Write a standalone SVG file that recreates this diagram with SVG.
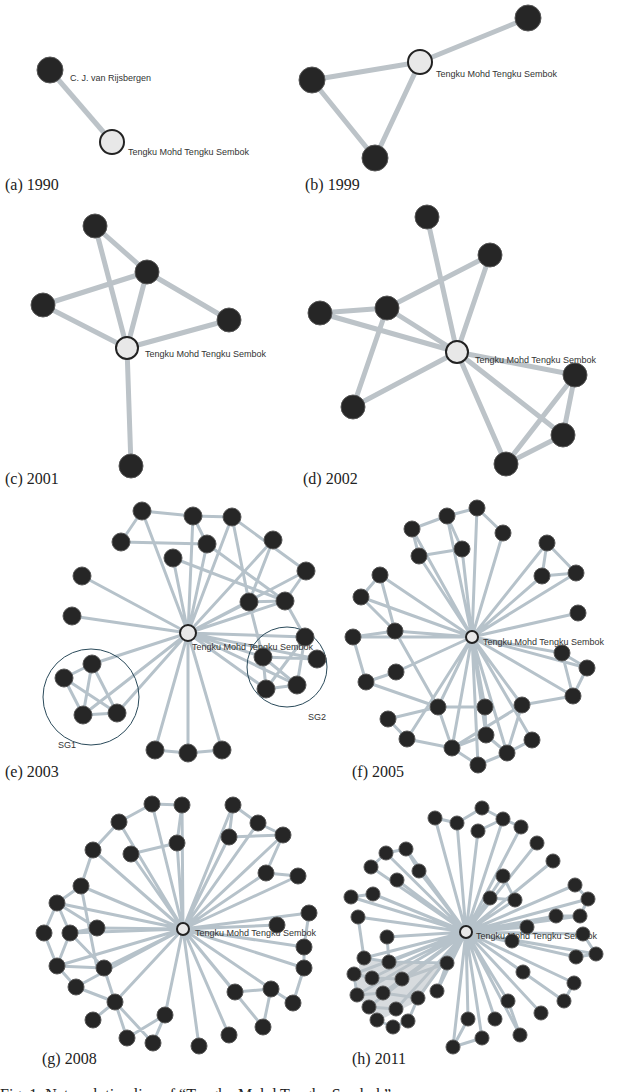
<svg xmlns="http://www.w3.org/2000/svg" width="640" height="1092" viewBox="0 0 640 1092">
<style>
.e1{stroke:#bcc3c8;stroke-width:5;fill:none}
.e2{stroke:#b6c2ca;stroke-width:3;fill:none}
.n1{fill:#262626;stroke:#555;stroke-width:1}
.h1{fill:#e8e8e8;stroke:#222;stroke-width:2}
.cap{font-family:"Liberation Serif",serif;font-size:16px;fill:#222}
.lb{font-family:"Liberation Sans",sans-serif;font-size:9px;fill:#333}
.sg{fill:none;stroke:#2a4a5a;stroke-width:1}
#nodes-f circle,#nodes-g circle{r:8px}
#nodes-h circle{r:7px}
</style>
<rect width="640" height="1092" fill="#fff"/>
<g id="connectors">
<path class="e1" d="M50,70L112,142"/>
<path class="e1" d="M420,62L528,18M420,62L312,80M420,62L375,158M312,80L375,158"/>
<path class="e1" d="M127,348L95,226M127,348L147,272M127,348L43,305M127,348L229,320M127,348L131,466M95,226L147,272M43,305L147,272M147,272L229,320"/>
<path class="e1" d="M457,352L427,217M457,352L490,255M457,352L320,313M457,352L387,308M457,352L353,407M457,352L575,375M457,352L563,435M457,352L506,464M387,308L320,313M387,308L490,255M387,308L353,407M575,375L563,435M575,375L506,464M563,435L506,464"/>
<g class="e2">
<path d="M188,633L142,511M188,633L193,516M188,633L232,517M188,633L207,544M188,633L173,558M188,633L273,540M188,633L306,571M188,633L82,576M188,633L249,602M188,633L285,601M188,633L72,616M188,633L305,637M188,633L263,657M188,633L317,659M188,633L266,689M188,633L297,685M188,633L92,664M188,633L83,715M188,633L117,713M188,633L155,750M188,633L188,753M188,633L222,750"/>
<path d="M142,511L121,542M142,511L193,516M193,516L232,517M121,542L207,544M193,516L207,544M232,517L249,602M173,558L285,601M207,544L285,601M273,540L249,602M306,571L285,601M249,602L285,601M249,602L263,657M285,601L305,637M263,657L317,659M263,657L266,689M266,689L297,685M305,637L297,685M263,657L297,685M305,637L266,689M92,664L64,678M64,678L83,715M83,715L117,713M92,664L83,715M64,678L117,713M92,664L117,713M155,750L188,753M188,753L222,750M232,517L306,571"/>
</g>
<g class="e2">
<path d="M472,637L477,508M472,637L447,516M472,637L412,529M472,637L503,533M472,637L462,549M472,637L419,556M472,637L547,543M472,637L542,576M472,637L576,573M472,637L380,575M472,637L361,597M472,637L578,613M472,637L395,631M472,637L353,637M472,637L562,653M472,637L587,668M472,637L396,672M472,637L573,696M472,637L438,707M472,637L485,707M472,637L522,705M472,637L486,735M472,637L407,739M472,637L452,748M472,637L532,740M472,637L507,753M472,637L478,765"/>
<path d="M447,516L477,508M477,508L503,533M412,529L447,516M412,529L419,556M419,556L462,549M447,516L462,549M547,543L542,576M542,576L576,573M547,543L576,573M380,575L361,597M380,575L395,631M361,597L395,631M353,637L366,682M366,682L396,672M353,637L395,631M395,631L438,707M562,653L587,668M562,653L573,696M587,668L573,696M522,705L573,696M438,707L485,707M438,707L388,719M388,719L407,739M407,739L452,748M438,707L452,748M485,707L486,735M486,735L452,748M486,735L507,753M522,705L507,753M532,740L507,753M452,748L478,765M478,765L507,753M522,705L452,748M366,682L438,707"/>
</g>
<g class="e2">
<path d="M183,929L152,804M183,929L182,805M183,929L233,805M183,929L119,822M183,929L258,823M183,929L229,837M183,929L283,835M183,929L177,843M183,929L93,850M183,929L131,854M183,929L266,873M183,929L298,876M183,929L81,886M183,929L57,903M183,929L309,913M183,929L277,925M183,929L97,928M183,929L304,947M183,929L104,968M183,929L304,968M183,929L57,966M183,929L235,992M183,929L271,989M183,929L115,1002M183,929L165,1015M183,929L229,1035M183,929L199,1046M183,929L263,1027M183,929L70,933M183,929L76,987"/>
<path d="M152,804L182,805M119,822L152,804M93,850L119,822M131,854L177,843M182,805L177,843M233,805L258,823M233,805L229,837M229,837L283,835M258,823L283,835M283,835L266,873M266,873L298,876M81,886L93,850M57,903L81,886M44,933L57,903M44,933L57,966M57,903L70,933M70,933L97,928M70,933L57,966M57,966L104,968M57,966L76,987M76,987L115,1002M104,968L115,1002M115,1002L127,1038M93,1020L115,1002M127,1038L165,1015M153,1043L165,1015M115,1002L153,1043M309,913L304,947M304,947L304,968M304,968L293,1003M271,989L293,1003M235,992L271,989M271,989L263,1027M57,903L97,928M81,886L97,968M70,933L104,968"/>
</g>
<g class="e2">
<path d="M466,932L435,818M466,932L457,823M466,932L478,831M466,932L503,819M466,932L521,827M466,932L537,843M466,932L553,861M466,932L386,853M466,932L406,849M466,932L371,867M466,932L419,871M466,932L397,880M466,932L503,876M466,932L575,885M466,932L351,897M466,932L373,894M466,932L490,898M466,932L515,900M466,932L588,899M466,932L358,917M466,932L556,916M466,932L580,916M466,932L527,927M466,932L583,934M466,932L387,937M466,932L512,941M466,932L364,958M466,932L576,957M466,932L596,954M466,932L389,962M466,932L447,963M466,932L354,974M466,932L372,978M466,932L402,979M466,932L523,972M466,932L357,995M466,932L383,993M466,932L437,991M466,932L574,983M466,932L418,998M466,932L369,1007M466,932L396,1009M466,932L564,1001M466,932L508,1001M466,932L468,1019M466,932L495,1019M466,932L541,1013M466,932L482,1038M466,932L520,1035M466,932L453,1047"/>
<path d="M435,818L457,823M457,823L482,808M482,808L503,819M478,831L503,819M503,819L521,827M386,853L406,849M371,867L386,853M406,849L419,871M351,897L373,894M358,917L364,958M575,885L588,899M556,916L580,916M588,899L580,916M583,934L596,954M576,957L596,954M574,983L564,1001M354,974L372,978M372,978L402,979M357,995L383,993M383,993L418,998M369,1007L396,1009M377,1020L393,1027M393,1027L408,1021M408,1021L418,998M389,962L447,963M447,963L437,991M402,979L447,963M364,958L389,962M354,974L357,995M387,937L389,962M468,1019L453,1047M482,1038L453,1047M508,1001L520,1035M503,876L515,900M490,898L515,900"/>
<path d="M360,960L440,965L420,1000L380,1020L355,995Z" fill="#bcc3c8" stroke="none" opacity="0.6"/>
</g>
</g>
<g id="labels">
<text class="lb" x="70" y="81">C. J. van Rijsbergen</text>
<text class="lb" x="128" y="155">Tengku Mohd Tengku Sembok</text>
<text class="lb" x="436" y="77" font-size="7">Tengku Mohd Tengku Sembok</text>
<text class="lb" x="145" y="357">Tengku Mohd Tengku Sembok</text>
<text class="lb" x="475" y="363">Tengku Mohd Tengku Sembok</text>
<text class="lb" x="192" y="650" font-size="8">Tengku Mohd Tengku Sembok</text>
<text class="lb" x="483" y="645">Tengku Mohd Tengku Sembok</text>
<text class="lb" x="195" y="936" font-size="8">Tengku Mohd Tengku Sembok</text>
<text class="lb" x="476" y="939" font-size="8">Tengku Mohd Tengku Sembok</text>
<text class="lb" x="58" y="748" font-size="7">SG1</text>
<text class="lb" x="308" y="720" font-size="7">SG2</text>
<text class="cap" x="5" y="190">(a) 1990</text>
<text class="cap" x="305" y="190">(b) 1999</text>
<text class="cap" x="5" y="484">(c) 2001</text>
<text class="cap" x="303" y="484">(d) 2002</text>
<text class="cap" x="5" y="777">(e) 2003</text>
<text class="cap" x="352" y="777">(f) 2005</text>
<text class="cap" x="42" y="1064">(g) 2008</text>
<text class="cap" x="352" y="1064">(h) 2011</text>
<text class="cap" x="0" y="1100" font-size="22">Fig. 1.   Network timeline of “Tengku Mohd Tengku Sembok”</text>
</g>
<circle class="sg" cx="91" cy="697" r="48"/>
<circle class="sg" cx="287" cy="667" r="40"/>
<g id="nodes-a"><circle class="n1" cx="50" cy="70" r="13"/><circle class="h1" cx="112" cy="142" r="12"/></g>
<g id="nodes-b"><circle class="n1" cx="528" cy="18" r="13"/><circle class="h1" cx="420" cy="62" r="12"/><circle class="n1" cx="312" cy="80" r="13"/><circle class="n1" cx="375" cy="158" r="13"/></g>
<g id="nodes-c"><circle class="h1" cx="127" cy="348" r="11"/><circle class="n1" cx="95" cy="226" r="12"/><circle class="n1" cx="147" cy="272" r="12"/><circle class="n1" cx="43" cy="305" r="12"/><circle class="n1" cx="229" cy="320" r="12"/><circle class="n1" cx="131" cy="466" r="12"/></g>
<g id="nodes-d"><circle class="h1" cx="457" cy="352" r="11"/><circle class="n1" cx="427" cy="217" r="12"/><circle class="n1" cx="490" cy="255" r="12"/><circle class="n1" cx="320" cy="313" r="12"/><circle class="n1" cx="387" cy="308" r="12"/><circle class="n1" cx="353" cy="407" r="12"/><circle class="n1" cx="575" cy="375" r="12"/><circle class="n1" cx="563" cy="435" r="12"/><circle class="n1" cx="506" cy="464" r="12"/></g>
<g id="nodes-e" class="n1">
<circle cx="142" cy="511" r="9"/><circle cx="193" cy="516" r="9"/><circle cx="232" cy="517" r="9"/><circle cx="121" cy="542" r="9"/><circle cx="207" cy="544" r="9"/><circle cx="173" cy="558" r="9"/><circle cx="273" cy="540" r="9"/><circle cx="306" cy="571" r="9"/><circle cx="82" cy="576" r="9"/><circle cx="249" cy="602" r="9"/><circle cx="285" cy="601" r="9"/><circle cx="72" cy="616" r="9"/><circle cx="305" cy="637" r="9"/><circle cx="263" cy="657" r="9"/><circle cx="317" cy="659" r="9"/><circle cx="266" cy="689" r="9"/><circle cx="297" cy="685" r="9"/><circle cx="92" cy="664" r="9"/><circle cx="64" cy="678" r="9"/><circle cx="83" cy="715" r="9"/><circle cx="117" cy="713" r="9"/><circle cx="155" cy="750" r="9"/><circle cx="188" cy="753" r="9"/><circle cx="222" cy="750" r="9"/>
</g>
<circle class="h1" cx="188" cy="633" r="8"/>
<g id="nodes-f" class="n1">
<circle cx="477" cy="508" r="8"/><circle cx="447" cy="516" r="8"/><circle cx="412" cy="529" r="8"/><circle cx="503" cy="533" r="8"/><circle cx="462" cy="549" r="8"/><circle cx="419" cy="556" r="8"/><circle cx="547" cy="543" r="8"/><circle cx="542" cy="576" r="8"/><circle cx="576" cy="573" r="8"/><circle cx="380" cy="575" r="8"/><circle cx="361" cy="597" r="8"/><circle cx="578" cy="613" r="8"/><circle cx="395" cy="631" r="8"/><circle cx="353" cy="637" r="8"/><circle cx="562" cy="653" r="8"/><circle cx="587" cy="668" r="8"/><circle cx="396" cy="672" r="8"/><circle cx="366" cy="682" r="8"/><circle cx="573" cy="696" r="8"/><circle cx="438" cy="707" r="8"/><circle cx="485" cy="707" r="8"/><circle cx="522" cy="705" r="8"/><circle cx="388" cy="719" r="8"/><circle cx="486" cy="735" r="8"/><circle cx="407" cy="739" r="8"/><circle cx="452" cy="748" r="8"/><circle cx="532" cy="740" r="8"/><circle cx="507" cy="753" r="8"/><circle cx="478" cy="765" r="8"/>
</g>
<circle class="h1" cx="472" cy="637" r="6"/>
<g id="nodes-g" class="n1">
<circle cx="152" cy="804" r="8"/><circle cx="182" cy="805" r="8"/><circle cx="233" cy="805" r="8"/><circle cx="119" cy="822" r="8"/><circle cx="258" cy="823" r="8"/><circle cx="229" cy="837" r="8"/><circle cx="283" cy="835" r="8"/><circle cx="177" cy="843" r="8"/><circle cx="93" cy="850" r="8"/><circle cx="131" cy="854" r="8"/><circle cx="266" cy="873" r="8"/><circle cx="298" cy="876" r="8"/><circle cx="81" cy="886" r="8"/><circle cx="57" cy="903" r="8"/><circle cx="309" cy="913" r="8"/><circle cx="277" cy="925" r="8"/><circle cx="44" cy="933" r="8"/><circle cx="70" cy="933" r="8"/><circle cx="97" cy="928" r="8"/><circle cx="304" cy="947" r="8"/><circle cx="57" cy="966" r="8"/><circle cx="104" cy="968" r="8"/><circle cx="304" cy="968" r="8"/><circle cx="76" cy="987" r="8"/><circle cx="235" cy="992" r="8"/><circle cx="271" cy="989" r="8"/><circle cx="115" cy="1002" r="8"/><circle cx="293" cy="1003" r="8"/><circle cx="165" cy="1015" r="8"/><circle cx="93" cy="1020" r="8"/><circle cx="263" cy="1027" r="8"/><circle cx="229" cy="1035" r="8"/><circle cx="127" cy="1038" r="8"/><circle cx="153" cy="1043" r="8"/><circle cx="199" cy="1046" r="8"/>
</g>
<circle class="h1" cx="183" cy="929" r="6"/>
<g id="nodes-h" class="n1">
<circle cx="435" cy="818" r="7"/><circle cx="457" cy="823" r="7"/><circle cx="482" cy="808" r="7"/><circle cx="478" cy="831" r="7"/><circle cx="503" cy="819" r="7"/><circle cx="521" cy="827" r="7"/><circle cx="537" cy="843" r="7"/><circle cx="553" cy="861" r="7"/><circle cx="386" cy="853" r="7"/><circle cx="406" cy="849" r="7"/><circle cx="371" cy="867" r="7"/><circle cx="419" cy="871" r="7"/><circle cx="397" cy="880" r="7"/><circle cx="503" cy="876" r="7"/><circle cx="575" cy="885" r="7"/><circle cx="351" cy="897" r="7"/><circle cx="373" cy="894" r="7"/><circle cx="490" cy="898" r="7"/><circle cx="515" cy="900" r="7"/><circle cx="588" cy="899" r="7"/><circle cx="358" cy="917" r="7"/><circle cx="556" cy="916" r="7"/><circle cx="580" cy="916" r="7"/><circle cx="527" cy="927" r="7"/><circle cx="583" cy="934" r="7"/><circle cx="387" cy="937" r="7"/><circle cx="512" cy="941" r="7"/><circle cx="364" cy="958" r="7"/><circle cx="576" cy="957" r="7"/><circle cx="596" cy="954" r="7"/><circle cx="389" cy="962" r="7"/><circle cx="447" cy="963" r="7"/><circle cx="354" cy="974" r="7"/><circle cx="372" cy="978" r="7"/><circle cx="402" cy="979" r="7"/><circle cx="523" cy="972" r="7"/><circle cx="357" cy="995" r="7"/><circle cx="383" cy="993" r="7"/><circle cx="437" cy="991" r="7"/><circle cx="574" cy="983" r="7"/><circle cx="418" cy="998" r="7"/><circle cx="369" cy="1007" r="7"/><circle cx="396" cy="1009" r="7"/><circle cx="564" cy="1001" r="7"/><circle cx="508" cy="1001" r="7"/><circle cx="377" cy="1020" r="7"/><circle cx="393" cy="1027" r="7"/><circle cx="408" cy="1021" r="7"/><circle cx="468" cy="1019" r="7"/><circle cx="495" cy="1019" r="7"/><circle cx="541" cy="1013" r="7"/><circle cx="482" cy="1038" r="7"/><circle cx="520" cy="1035" r="7"/><circle cx="453" cy="1047" r="7"/>
</g>
<circle class="h1" cx="466" cy="932" r="6"/>
</svg>
